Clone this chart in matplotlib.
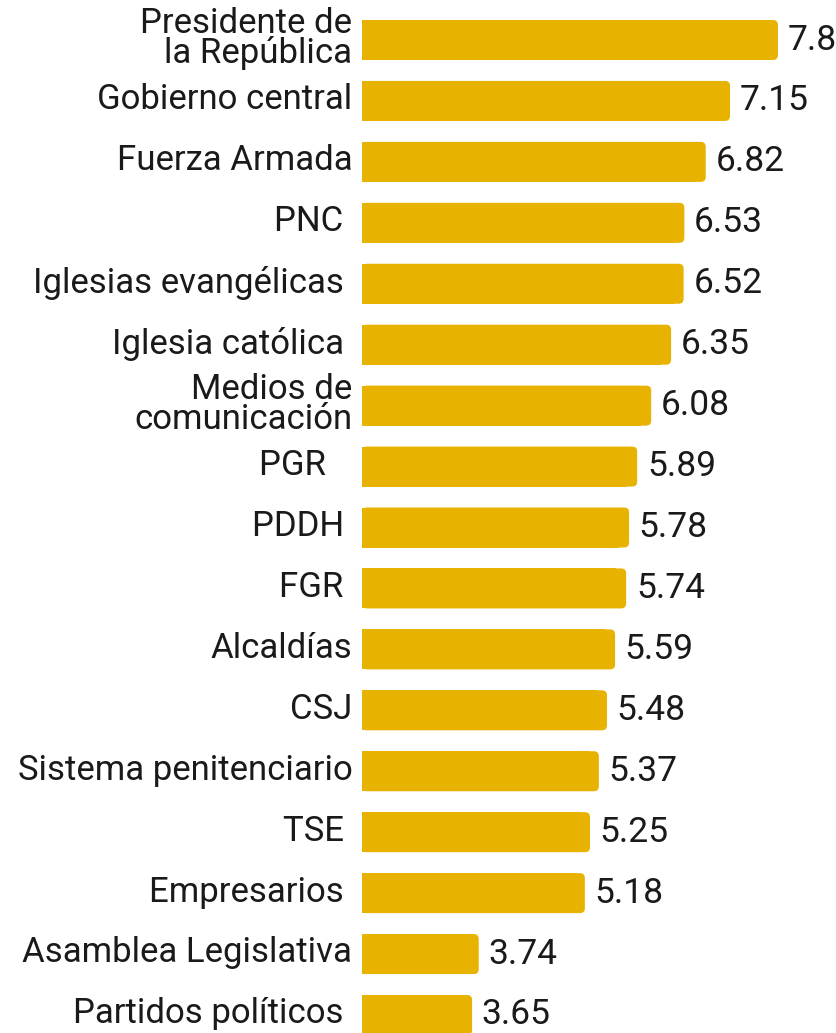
import matplotlib
matplotlib.use("Agg")
import matplotlib.pyplot as plt
from matplotlib.patches import FancyBboxPatch, Rectangle

categories = [
    "Presidente de\nla República", "Gobierno central", "Fuerza Armada", "PNC ",
    "Iglesias evangélicas ", "Iglesia católica ", "Medios de\ncomunicación", "PGR   ",
    "PDDH ", "FGR ", "Alcaldías", "CSJ", "Sistema penitenciario", "TSE ",
    "Empresarios ", "Asamblea Legislativa", "Partidos políticos ",
]
values = [7.8, 7.15, 6.82, 6.53, 6.52, 6.35, 6.08, 5.89, 5.78, 5.74, 5.59,
          5.48, 5.37, 5.25, 5.18, 3.74, 3.65]
value_labels = ["7.8", "7.15", "6.82", "6.53", "6.52", "6.35", "6.08", "5.89",
                "5.78", "5.74", "5.59", "5.48", "5.37", "5.25", "5.18", "3.74", "3.65"]

BAR_COLOR = "#E8B300"
FONT = ["Roboto", "DejaVu Sans"]
TEXT_COLOR = "#1a1a1a"

W, H = 836, 1033
fig = plt.figure(figsize=(W / 100, H / 100), dpi=100)
ax_left_px = 362
ax = fig.add_axes([ax_left_px / W, 0, 1 - ax_left_px / W, 1])

px_per_unit = 73.7
zero_px = 203.1
x_lo = (ax_left_px - zero_px) / px_per_unit
x_hi = (W - zero_px) / px_per_unit
pitch = (1015 - 40) / 16
y_top = -40 / pitch
y_bot = (H - 40) / pitch
ax.set_xlim(x_lo, x_hi)
ax.set_ylim(y_bot, y_top)

bar_h = 40 / pitch
r_px = 5
r_x = r_px / px_per_unit
aspect = px_per_unit / pitch

for i, v in enumerate(values):
    y0 = i - bar_h / 2
    p = FancyBboxPatch((x_lo, y0), v - x_lo, bar_h,
                       boxstyle=f"round,pad=0,rounding_size={r_x}",
                       mutation_aspect=aspect, facecolor=BAR_COLOR,
                       edgecolor="none", clip_on=False)
    ax.add_patch(p)
    ax.add_patch(Rectangle((x_lo, y0), (v - x_lo) - 2 * r_x, bar_h,
                           facecolor=BAR_COLOR, edgecolor="none"))
    ax.annotate(value_labels[i], xy=(v, i), xytext=(7, 0),
                textcoords="offset points", ha="left", va="center",
                fontsize=25.5, family=FONT, color=TEXT_COLOR)
    ax.annotate(categories[i], xy=(x_lo, i), xytext=(-7, 0.8),
                textcoords="offset points", ha="right", va="center",
                fontsize=25, family=FONT, color=TEXT_COLOR,
                linespacing=0.85, annotation_clip=False)

ax.set_xticks([])
ax.set_yticks([])
for s in ax.spines.values():
    s.set_visible(False)

fig.savefig("out.png", dpi=100)
